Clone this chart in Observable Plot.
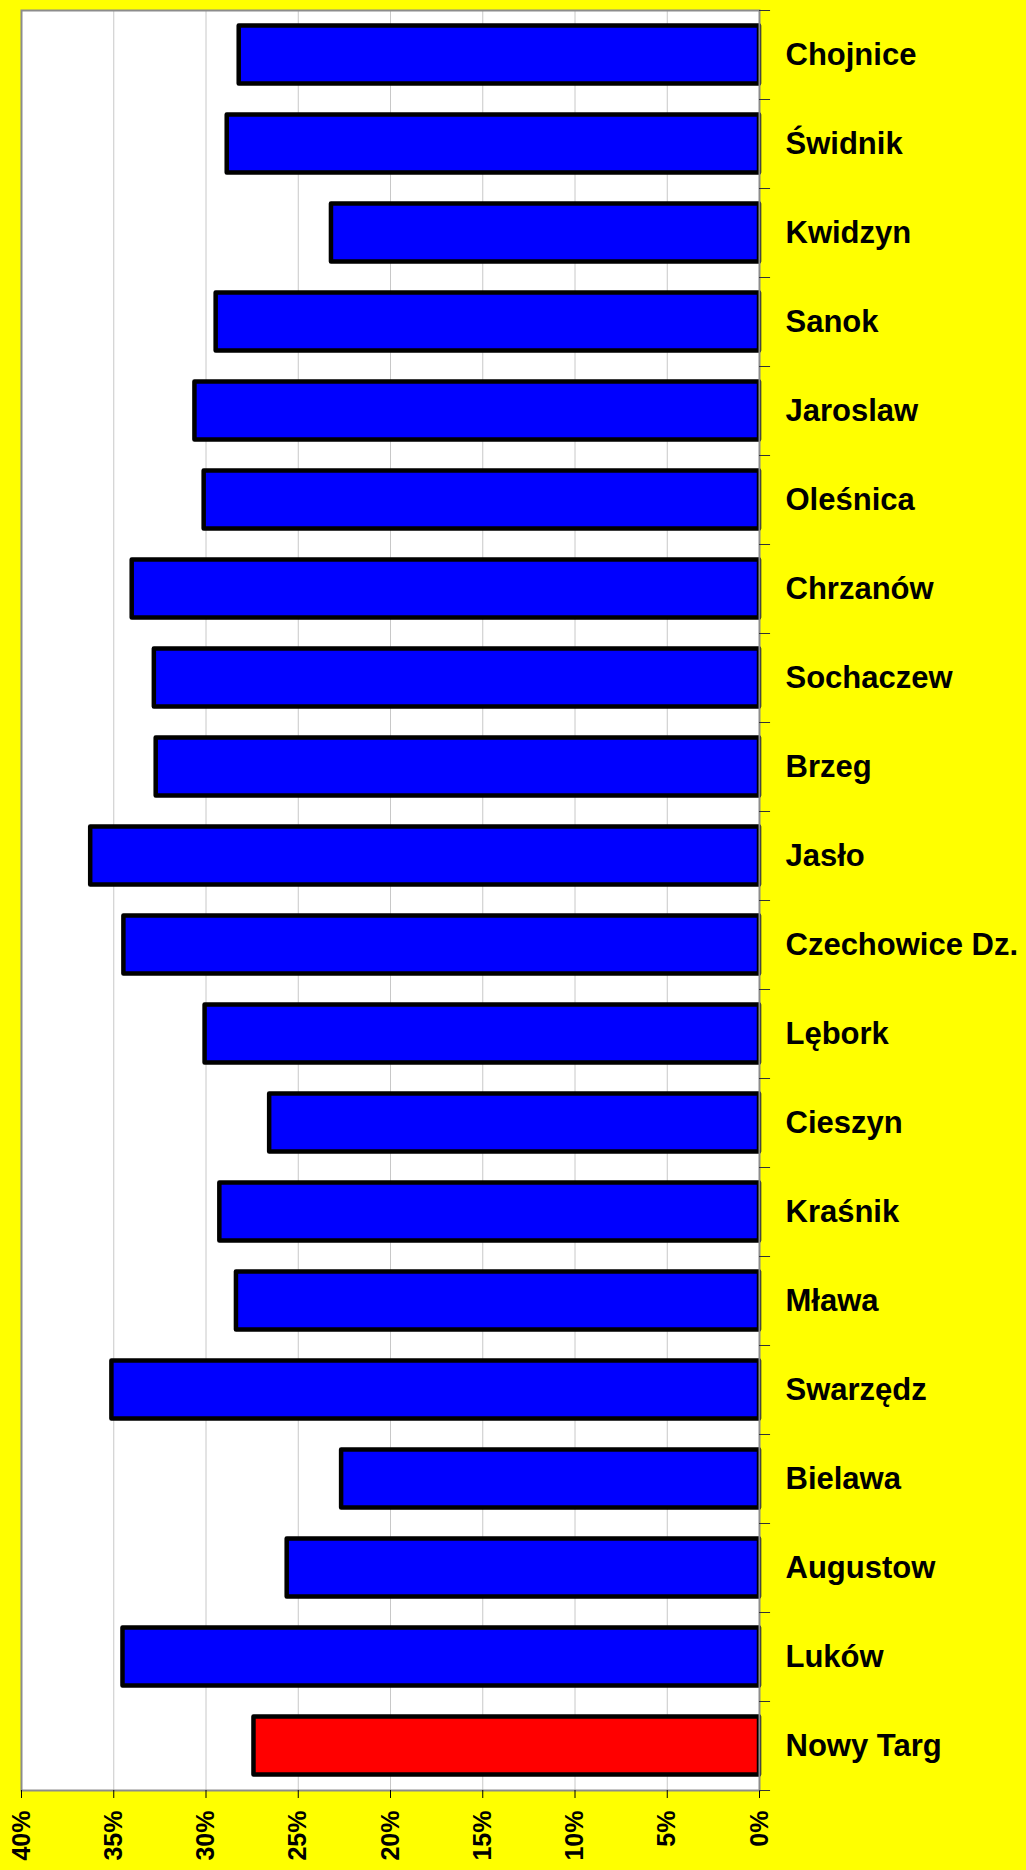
<!DOCTYPE html>
<html>
<head>
<meta charset="utf-8">
<script src="https://cdn.jsdelivr.net/npm/d3@7"></script>
<script src="https://cdn.jsdelivr.net/npm/@observablehq/plot@0.6"></script>
<style>
html, body { margin: 0; padding: 0; background: #ffff00; }
#chart svg { display: block; }
</style>
</head>
<body>
<div id="chart"></div>
<script>
const cities = ["Chojnice", "Świdnik", "Kwidzyn", "Sanok", "Jaroslaw", "Oleśnica", "Chrzanów", "Sochaczew", "Brzeg", "Jasło", "Czechowice Dz.", "Lębork", "Cieszyn", "Kraśnik", "Mława", "Swarzędz", "Bielawa", "Augustow", "Luków", "Nowy Targ"];
const shares = [28.2, 28.85, 23.2, 29.45, 30.6, 30.1, 34.0, 32.8, 32.7, 36.25, 34.45, 30.05, 26.55, 29.25, 28.35, 35.1, 22.65, 25.6, 34.5, 27.4];
const xTicks = [0, 5, 10, 15, 20, 25, 30, 35, 40];
const highlighted = ["Nowy Targ"];

const data = cities.map((city, i) => ({city, share: shares[i]}));

const W = 1026, H = 1870;
const mT = 10, mB = 80, mL = 21, mR = 267;
const band = (H - mT - mB) / cities.length;

const chart = Plot.plot({
  width: W,
  height: H,
  marginTop: mT,
  marginBottom: mB,
  marginLeft: mL,
  marginRight: mR,
  style: {background: "#ffff00", fontFamily: "'Liberation Sans', Arial, sans-serif", color: "black"},
  x: {domain: [40, 0], label: null},
  y: {domain: cities, padding: 0, label: null},
  color: {type: "identity"},
  marks: [
    Plot.frame({fill: "white", stroke: "none"}),
    Plot.gridX(xTicks, {stroke: "#c8c8c8", strokeOpacity: 1, strokeWidth: 1}),
    Plot.barX(data, {
      y: "city", x1: 0, x2: "share",
      fill: d => highlighted.includes(d.city) ? "#ff0000" : "#0000ff",
      stroke: "black", strokeWidth: 4.5, strokeLinejoin: "round",
      insetTop: 15.5, insetBottom: 15.5
    }),
    Plot.frame({stroke: "#8c8c8c", strokeWidth: 2}),
    Plot.axisX(xTicks, {
      anchor: "bottom", tickRotate: -90, tickSize: 8, tickPadding: 12,
      fontSize: 25, fontWeight: "bold", stroke: "black", label: null,
      tickFormat: d => d + "%"
    }),
    Plot.axisY({anchor: "right", tickSize: 0, tickPadding: 26, fontSize: 31, fontWeight: "bold", label: null}),
    Plot.ruleY(cities, {y: d => d, x1: 0, x2: -0.6, dy: -band / 2, stroke: "#333"}),
    Plot.ruleY([cities[cities.length - 1]], {y: d => d, x1: 0, x2: -0.6, dy: band / 2, stroke: "#333"})
  ]
});

document.getElementById("chart").append(chart);
</script>
</body>
</html>
